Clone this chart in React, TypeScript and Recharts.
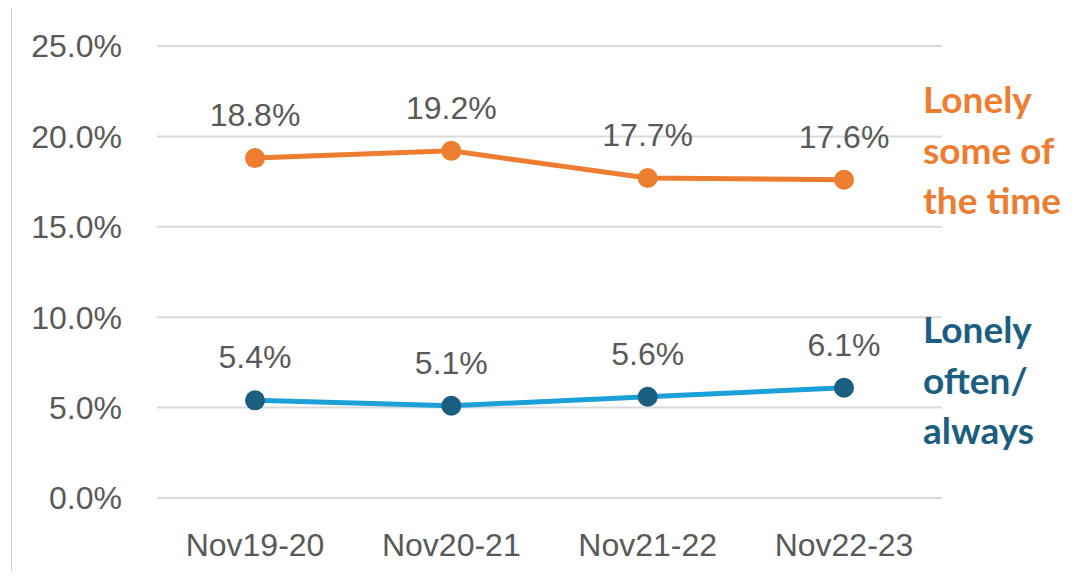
import { LineChart, Line, XAxis, YAxis, CartesianGrid, LabelList } from "recharts"

const periods = ["Nov19-20", "Nov20-21", "Nov21-22", "Nov22-23"]
const someOfTheTime = [18.8, 19.2, 17.7, 17.6]
const oftenAlways = [5.4, 5.1, 5.6, 6.1]
const yTicks = [0, 5, 10, 15, 20, 25]

const ORANGE = "#ED7D31"
const BLUE_LINE = "#1CA0D8"
const BLUE_DARK = "#1B5E80"
const TEXT = "#595959"
const FONT = "'Liberation Sans', Arial, sans-serif"

const data = periods.map((p, i) => ({
  period: p,
  some: someOfTheTime[i],
  often: oftenAlways[i]
}))

const pct = (v: number) => `${v.toFixed(1)}%`

const sideLabel = (color: string): React.CSSProperties => ({
  position: "absolute",
  left: 915,
  color,
  fontFamily: "Lato, 'Noto Sans', sans-serif",
  fontWeight: 700,
  fontSize: 37,
  lineHeight: "50.5px",
  whiteSpace: "nowrap"
})

export default function App() {
  return (
    <div style={{ position: "relative", width: 1068, height: 564 }}>
      <div
        style={{
          position: "absolute",
          left: 3,
          top: 0,
          width: 1,
          height: 572,
          background: "#d0d0d0"
        }}
      />
      <LineChart
        width={1068}
        height={564}
        data={data}
        margin={{ top: 38, right: 134, bottom: 0, left: 0 }}
      >
        <CartesianGrid vertical={false} stroke="#d9d9d9" strokeWidth={2} />
        <XAxis
          dataKey="period"
          axisLine={false}
          tickLine={false}
          tickSize={0}
          tickMargin={35}
          height={74}
          padding={{ left: 98, right: 98 }}
          tick={{ fill: TEXT, fontSize: 32, fontFamily: FONT }}
        />
        <YAxis
          domain={[0, 25]}
          ticks={yTicks}
          axisLine={false}
          tickLine={false}
          tickSize={0}
          tickMargin={35}
          width={149}
          tickFormatter={pct}
          tick={{ fill: TEXT, fontSize: 32, fontFamily: FONT }}
        />
        <Line
          dataKey="some"
          stroke={ORANGE}
          strokeWidth={5}
          dot={{ r: 10, fill: ORANGE, stroke: "none" }}
          isAnimationActive={false}
        >
          <LabelList
            dataKey="some"
            position="top"
            offset={32}
            formatter={(v: any) => pct(Number(v))}
            style={{ fill: TEXT, fontSize: 32, fontFamily: FONT }}
          />
        </Line>
        <Line
          dataKey="often"
          stroke={BLUE_LINE}
          strokeWidth={5}
          dot={{ r: 10, fill: BLUE_DARK, stroke: "none" }}
          isAnimationActive={false}
        >
          <LabelList
            dataKey="often"
            position="top"
            offset={32}
            formatter={(v: any) => pct(Number(v))}
            style={{ fill: TEXT, fontSize: 32, fontFamily: FONT }}
          />
        </Line>
      </LineChart>
      <div style={{ ...sideLabel(ORANGE), top: 66 }}>
        Lonely
        <br />
        some of
        <br />
        the time
      </div>
      <div style={{ ...sideLabel(BLUE_DARK), top: 296 }}>
        Lonely
        <br />
        often/
        <br />
        always
      </div>
    </div>
  )
}
